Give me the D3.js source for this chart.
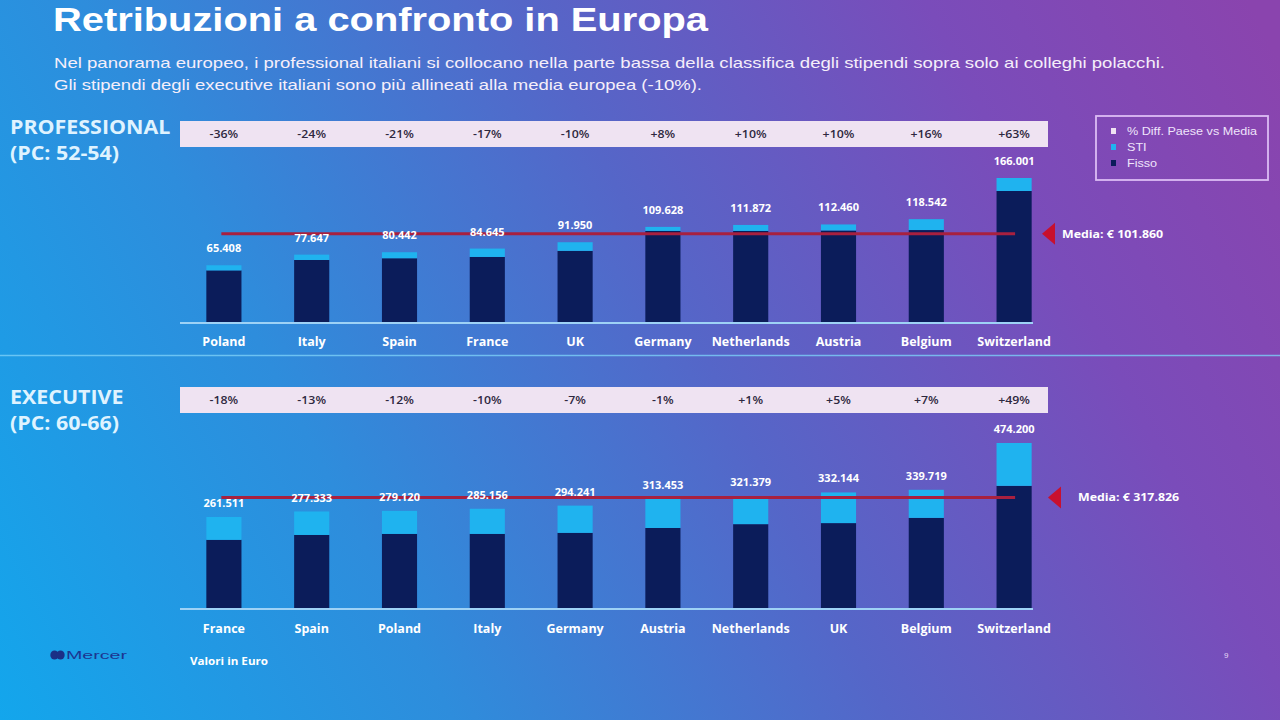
<!DOCTYPE html>
<html><head><meta charset="utf-8">
<script src="https://cdn.jsdelivr.net/npm/d3@7/dist/d3.min.js"></script>
<style>html,body{margin:0;padding:0;overflow:hidden;background:#3b7ad2}</style>
</head><body>
<script>
// ---- DATA ----
const profCategories = ["Poland","Italy","Spain","France","UK","Germany","Netherlands","Austria","Belgium","Switzerland"];
const profTotal = [65408, 77647, 80442, 84645, 91950, 109628, 111872, 112460, 118542, 166001];
const profFisso = [59500, 71500, 73500, 75000, 82000, 105000, 105000, 105500, 106000, 151000];
const profDiff = ["-36%","-24%","-21%","-17%","-10%","+8%","+10%","+10%","+16%","+63%"];
const profMedia = 101860;

const execCategories = ["France","Spain","Poland","Italy","Germany","Austria","Netherlands","UK","Belgium","Switzerland"];
const execTotal = [261511, 277333, 279120, 285156, 294241, 313453, 321379, 332144, 339719, 474200];
const execFisso = [196000, 210000, 213000, 213000, 216000, 230000, 241000, 244000, 259000, 351000];
const execDiff = ["-18%","-13%","-12%","-10%","-7%","-1%","+1%","+5%","+7%","+49%"];
const execMedia = 317826;

const legendLabels = ["% Diff. Paese vs Media","STI","Fisso"];

// ---- RENDER ----
const W = 1280, H = 720;
const svg = d3.select("body").append("svg").attr("width", W).attr("height", H);
const defs = svg.append("defs");
const g = defs.append("linearGradient").attr("id","bg").attr("gradientUnits","userSpaceOnUse")
  .attr("x1",0).attr("y1",720).attr("x2",1280).attr("y2",60);
[[0,"#13a6ec"],[0.28,"#2e8ddc"],[0.55,"#5566c8"],[0.8,"#7a4cba"],[1,"#8a44ae"]]
  .forEach(([o,c]) => g.append("stop").attr("offset",o).attr("stop-color",c));
svg.append("rect").attr("width",W).attr("height",H).attr("fill","url(#bg)");

const it = d3.formatLocale({decimal:",", thousands:".", grouping:[3], currency:["€ ",""]});
const fmt = it.format(",d");

const FISSO = "#0b1c5a", STI = "#1fb3ef", BAND = "#efe3f2", MEDIA = "#a8203f", TRI = "#c8102e";
const fontB = "'Open Sans', 'Noto Sans', sans-serif";
const fontA = "'Liberation Sans', Arial, sans-serif";

// horizontal stretch helper (reference text is slightly widened)
function stretch(sel, k){
  sel.each(function(){
    const w = this.getComputedTextLength();
    d3.select(this).attr("textLength", w*k).attr("lengthAdjust","spacingAndGlyphs");
  });
  return sel;
}

// Title
svg.append("text").attr("x",53).attr("y",31).attr("fill","#fff")
  .style("font-family",fontA).style("font-weight","bold").style("font-size","33px")
  .attr("textLength",655).attr("lengthAdjust","spacingAndGlyphs")
  .text("Retribuzioni a confronto in Europa");
const sub = ["Nel panorama europeo, i professional italiani si collocano nella parte bassa della classifica degli stipendi sopra solo ai colleghi polacchi.",
             "Gli stipendi degli executive italiani sono più allineati alla media europea (-10%)."];
const subLen = [1111, 648];
sub.forEach((s,i) => svg.append("text").attr("x",54).attr("y",68 + i*22).attr("fill","#f5eefa")
  .style("font-family",fontA).style("font-size","14.5px")
  .attr("textLength",subLen[i]).attr("lengthAdjust","spacingAndGlyphs").text(s));

// separator
svg.append("line").attr("x1",0).attr("x2",W).attr("y1",355.5).attr("y2",355.5)
  .attr("stroke","#7cd0f8").attr("stroke-width",1.5).attr("opacity",0.8);

function panel(opts){
  const {cats,total,fisso,diff,media,y0,yTop,bandY,labelY,title,sub,triX,mediaX,catY,labelOff} = opts;
  const x = d3.scaleBand().domain(cats).range([180,1058]).paddingInner(0.6).paddingOuter(0.3);
  const y = d3.scaleLinear().domain([0, d3.max(total)]).range([y0, yTop]);
  const p = svg.append("g");
  // section title
  stretch(p.append("text").attr("x",10).attr("y",labelY).attr("fill","#dff3ff")
    .style("font-family",fontB).style("font-weight","bold").style("font-size","20px").text(title), 1.07);
  stretch(p.append("text").attr("x",10).attr("y",labelY+26).attr("fill","#dff3ff")
    .style("font-family",fontB).style("font-weight","bold").style("font-size","20px").text(sub), 1.07);
  // band
  p.append("rect").attr("x",180).attr("y",bandY).attr("width",868).attr("height",26).attr("fill",BAND);
  stretch(p.selectAll(".pct").data(cats).join("text")
    .attr("x", d => x(d) + x.bandwidth()/2).attr("y", bandY + 17).attr("text-anchor","middle")
    .attr("fill","#2e2840").style("font-family",fontB).style("font-weight","600").style("font-size","11px")
    .text((d,i) => diff[i]), 1.12);
  // bars
  p.selectAll(".f").data(cats).join("rect")
    .attr("x", d => x(d)).attr("width", x.bandwidth())
    .attr("y", (d,i) => y(fisso[i])).attr("height", (d,i) => y(0) - y(fisso[i])).attr("fill",FISSO);
  p.selectAll(".s").data(cats).join("rect")
    .attr("x", d => x(d)).attr("width", x.bandwidth())
    .attr("y", (d,i) => y(total[i])).attr("height", (d,i) => y(fisso[i]) - y(total[i])).attr("fill",STI);
  // axis line
  p.append("line").attr("x1",180).attr("x2",1033).attr("y1",y0+1).attr("y2",y0+1)
    .attr("stroke","#9ed2f6").attr("stroke-width",2.2);
  // media line
  const first = cats[0], last = cats[cats.length-1];
  p.append("line").attr("x1", x(first)+15).attr("x2", x(last)+x.bandwidth()/2+1)
    .attr("y1", y(media)).attr("y2", y(media)).attr("stroke",MEDIA).attr("stroke-width",3);
  const ym = y(media);
  p.append("path").attr("d", `M${triX},${ym} L${triX+13},${ym-11} L${triX+13},${ym+11} Z`).attr("fill",TRI);
  stretch(p.append("text").attr("x",mediaX).attr("y",ym+4).attr("fill","#fff")
    .style("font-family",fontB).style("font-weight","bold").style("font-size","10.5px")
    .text("Media: " + it.format("$,d")(media)), 1.18);
  // value labels
  p.selectAll(".v").data(cats).join("text")
    .attr("x", d => x(d) + x.bandwidth()/2).attr("y", (d,i) => y(total[i]) - labelOff)
    .attr("text-anchor","middle").attr("fill","#fff")
    .style("font-family",fontB).style("font-weight","bold").style("font-size","11px")
    .text((d,i) => fmt(total[i]));
  // categories
  p.selectAll(".c").data(cats).join("text")
    .attr("x", d => x(d) + x.bandwidth()/2).attr("y", catY).attr("text-anchor","middle").attr("fill","#fff")
    .style("font-family",fontB).style("font-weight","bold").style("font-size","12.5px")
    .text(d => d);
}

panel({cats:profCategories,total:profTotal,fisso:profFisso,diff:profDiff,media:profMedia,
  y0:322,yTop:178,bandY:121,labelY:134,title:"PROFESSIONAL",sub:"(PC: 52-54)",
  triX:1042,mediaX:1062,catY:346,labelOff:13});
panel({cats:execCategories,total:execTotal,fisso:execFisso,diff:execDiff,media:execMedia,
  y0:608,yTop:443,bandY:387,labelY:404,title:"EXECUTIVE",sub:"(PC: 60-66)",
  triX:1048,mediaX:1078,catY:633,labelOff:10});

// legend
const lg = svg.append("g");
lg.append("rect").attr("x",1096).attr("y",116).attr("width",172).attr("height",64)
  .attr("fill","none").attr("stroke","#dcbcf4").attr("stroke-width",1.8);
const lcol = [BAND, STI, FISSO];
legendLabels.forEach((l,i) => {
  lg.append("rect").attr("x",1111).attr("y",128 + i*16).attr("width",5).attr("height",6).attr("fill",lcol[i]);
  stretch(lg.append("text").attr("x",1127).attr("y",135 + i*16).attr("fill","#efe4fb")
    .style("font-family",fontA).style("font-size","10.5px").text(l), 1.2);
});

// footer
const mg = svg.append("g");
mg.append("ellipse").attr("cx",54.5).attr("cy",655).attr("rx",4.2).attr("ry",4.5).attr("fill","#1b2f86");
mg.append("ellipse").attr("cx",60.5).attr("cy",655).attr("rx",4.2).attr("ry",4.5).attr("fill","#1b2f86");
mg.append("text").attr("x",66).attr("y",659).attr("fill","#1d3590")
  .style("font-family",fontA).style("font-size","11px")
  .attr("textLength",61).attr("lengthAdjust","spacingAndGlyphs").text("Mercer");
svg.append("text").attr("x",190).attr("y",665).attr("fill","#fff")
  .style("font-family",fontB).style("font-weight","bold").style("font-size","10px")
  .attr("textLength",78).attr("lengthAdjust","spacingAndGlyphs").text("Valori in Euro");
svg.append("text").attr("x",1224).attr("y",658).attr("fill","#e6d8f6")
  .style("font-family",fontA).style("font-size","8px").text("9");
</script>
</body></html>
